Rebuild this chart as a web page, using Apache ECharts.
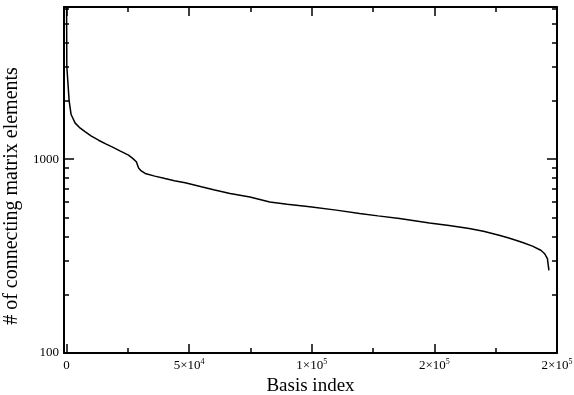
<!DOCTYPE html>
<html>
<head>
<meta charset="utf-8">
<script src="https://cdn.jsdelivr.net/npm/echarts@6/dist/echarts.min.js"></script>
<style>
html, body { margin: 0; padding: 0; background: #fff; }
#chart { width: 574px; height: 395px; }
</style>
</head>
<body>
<div id="chart"></div>
<script>
// basis index (x) and number of connecting matrix elements (y)
var basisIndex = [0, 150, 1100, 1900, 3500, 5500, 7700, 10000, 13100, 16000, 18600, 22000,
    25300, 27000, 28500, 29400, 30500, 32100, 36000, 40200, 44000, 48400, 55000, 60000,
    66700, 74800, 82900, 90000, 99200, 110000, 119500, 127000, 135800, 148000, 156000,
    164200, 170000, 176400, 180000, 183200, 186000, 190000, 193400, 195000, 196100, 196700];
var elementCount = [9000, 3000, 2000, 1700, 1540, 1450, 1384, 1320, 1253, 1200, 1157, 1100,
    1049, 1010, 970, 900, 870, 844, 818, 795, 775, 755, 720, 695,
    665, 638, 602, 585, 568, 546, 525, 510, 494, 469, 455,
    439, 425, 405, 393, 382, 372, 356, 339, 325, 307, 267];

// ticks
var xMajorTicks = [0, 50000, 100000, 150000, 200000];
var xMajorLabels = ['0', '5×10^4', '1×10^5', '2×10^5', '2×10^5'];
var xMinorTicks = [25000, 75000, 125000, 175000];
var yMajorTicks = [100, 1000];
var yMinorTicks = [200, 300, 400, 500, 600, 700, 800, 900, 2000, 3000, 4000, 5000, 6000];

var font = 'Liberation Serif';
var plotRect = { left: 64, right: 17, top: 7, bottom: 42, outerBoundsMode: 'none' };

function xLabel(value) {
    var i = xMajorTicks.indexOf(value);
    if (i < 0) return '';
    var parts = xMajorLabels[i].split('^');
    if (parts.length == 1) return '{b|' + parts[0] + '}';
    return '{b|' + parts[0] + '}{s|' + parts[1] + '}';
}

// grid 0 carries the long (major) ticks, grid 1 the short (minor) ones
function xAxisOf(grid, pos, ticks, len) {
    var main = grid == 0;
    var labelled = main && pos == 'bottom';
    return {
        type: 'value',
        gridIndex: grid,
        position: pos,
        min: -1000,
        max: 200000,
        splitLine: { show: false },
        axisLine: { show: main, onZero: false, lineStyle: { color: '#000', width: 2 } },
        axisTick: { show: true, inside: true, length: len, customValues: ticks,
            lineStyle: { color: '#000', width: 1.5 } },
        axisLabel: labelled ? {
            show: true, customValues: xMajorTicks, margin: 5,
            formatter: xLabel,
            rich: {
                b: { fontFamily: font, fontSize: 13, color: '#000', lineHeight: 15 },
                s: { fontFamily: font, fontSize: 8, color: '#000', verticalAlign: 'top', lineHeight: 12 }
            }
        } : { show: false },
        name: labelled ? 'Basis index' : '',
        nameLocation: 'middle',
        nameGap: 22,
        nameTextStyle: { fontFamily: font, fontSize: 19, color: '#000' }
    };
}

function yAxisOf(grid, pos, ticks, len) {
    var main = grid == 0;
    var labelled = main && pos == 'left';
    return {
        type: 'log',
        logBase: 10,
        gridIndex: grid,
        position: pos,
        min: 100,
        max: 6100,
        splitLine: { show: false },
        minorTick: { show: false },
        axisLine: { show: main, onZero: false, lineStyle: { color: '#000', width: 2 } },
        axisTick: { show: true, inside: true, length: len, customValues: ticks,
            lineStyle: { color: '#000', width: 1.5 } },
        axisLabel: labelled ? {
            show: true, customValues: yMajorTicks, margin: 5,
            formatter: function (v) { return String(Math.round(v)); },
            fontFamily: font, fontSize: 13, color: '#000'
        } : { show: false },
        name: labelled ? '# of connecting matrix elements' : '',
        nameLocation: 'middle',
        nameGap: 37,
        nameRotate: 90,
        nameTextStyle: { fontFamily: font, fontSize: 20, color: '#000', padding: [0, 32, 0, 0] }
    };
}

var points = [];
for (var i = 0; i < basisIndex.length; i++) {
    points.push([basisIndex[i], elementCount[i]]);
}

var option = {
    backgroundColor: '#fff',
    animation: false,
    grid: [plotRect, plotRect],
    xAxis: [
        xAxisOf(0, 'bottom', xMajorTicks, 9),
        xAxisOf(0, 'top', xMajorTicks, 9),
        xAxisOf(1, 'bottom', xMinorTicks, 5),
        xAxisOf(1, 'top', xMinorTicks, 5)
    ],
    yAxis: [
        yAxisOf(0, 'left', yMajorTicks, 10),
        yAxisOf(0, 'right', yMajorTicks, 10),
        yAxisOf(1, 'left', yMinorTicks, 5),
        yAxisOf(1, 'right', yMinorTicks, 5)
    ],
    series: [{
        type: 'line',
        data: points,
        xAxisIndex: 0,
        yAxisIndex: 0,
        showSymbol: false,
        clip: true,
        lineStyle: { color: '#000', width: 1.5 }
    }]
};

var chart = echarts.init(document.getElementById('chart'));
chart.setOption(option);
</script>
</body>
</html>
